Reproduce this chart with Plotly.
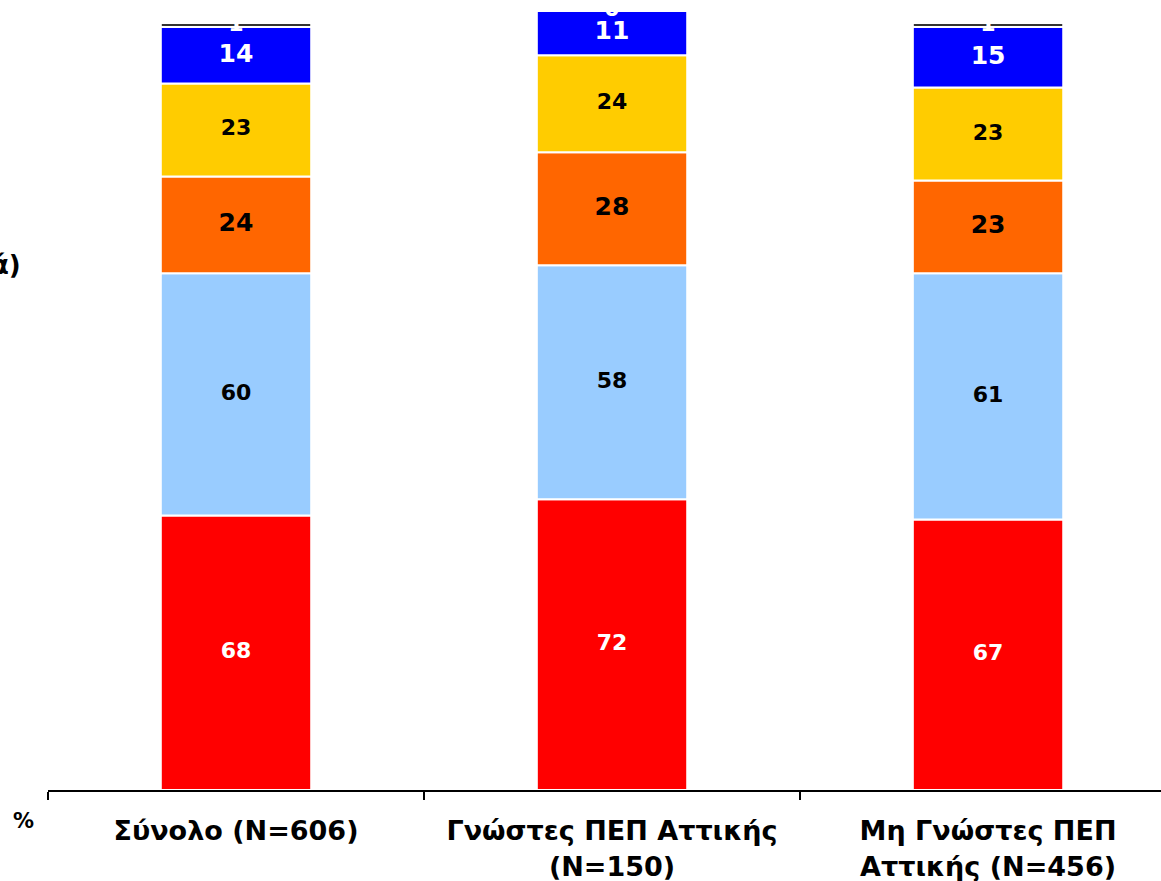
import plotly.graph_objects as go
import numpy as np

categories = ["Σύνολο (N=606)", "Γνώστες ΠΕΠ Αττικής<br>(N=150)", "Μη Γνώστες ΠΕΠ<br>Αττικής (N=456)"]
s_red = [68, 72, 67]
s_lightblue = [60, 58, 61]
s_orange = [24, 28, 23]
s_yellow = [23, 24, 23]
s_blue = [14, 11, 15]
s_gray = [1, 0, 1]

series = [
    (s_red, "#FF0000", "white", 22),
    (s_lightblue, "#99CCFF", "black", 22),
    (s_orange, "#FF6600", "black", 25),
    (s_yellow, "#FFCC00", "black", 22),
    (s_blue, "#0000FF", "white", 25),
    (s_gray, "#333333", "white", 22),
]

fig = go.Figure()
base = np.zeros(len(categories))
label_traces = []
for vals, color, tcolor, tsize in series:
    v = np.array(vals, dtype=float)
    fig.add_trace(go.Bar(
        x=categories, y=v, base=base, width=0.4,
        marker=dict(color=color, line=dict(color="white", width=2)),
        showlegend=False, hoverinfo="skip",
    ))
    mids = base + v / 2
    label_traces.append(go.Scatter(
        x=categories, y=mids, mode="text", text=[str(a) for a in vals],
        textfont=dict(family="DejaVu Sans", size=tsize, color=tcolor, weight="bold"),
        textposition="middle center", cliponaxis=False,
        showlegend=False, hoverinfo="skip",
    ))
    base = base + v

for t in label_traces:
    fig.add_trace(t)

W, H = 1161, 881
ML, MB = 48, 91
pw, ph = W - ML, H - MB


def px2paper(px, py):
    return (px - ML) / pw, 1 - py / ph


ax, ay = px2paper(23, 821)
bx, by = px2paper(23, 265)

fig.update_layout(
    width=W, height=H,
    margin=dict(l=ML, r=0, t=0, b=MB),
    paper_bgcolor="white", plot_bgcolor="white",
    barmode="overlay",
    xaxis=dict(
        type="category",
        range=[-0.5, 2.46],
        tickson="boundaries",
        showline=True, linecolor="black", linewidth=2,
        ticks="outside", ticklen=8, tickwidth=2, tickcolor="black",
        tickfont=dict(family="DejaVu Sans", size=27, color="black", weight="bold"),
        showgrid=False, zeroline=False, ticklabelstandoff=16,
    ),
    yaxis=dict(range=[0, 195.7], visible=False, showgrid=False, zeroline=False),
    annotations=[
        dict(text="%", x=ax, y=ay, xanchor="center", yanchor="middle",
             xref="paper", yref="paper", showarrow=False,
             font=dict(family="DejaVu Sans", size=21, color="black", weight="bold")),
        dict(text="ά)", x=bx, y=by, xanchor="right", yanchor="middle", showarrow=False,
             xref="paper", yref="paper",
             font=dict(family="DejaVu Sans", size=26, color="black", weight="bold")),
    ],
)

fig.write_html("out.html", post_script="document.body.style.margin='0';",
               config={"displayModeBar": False})
